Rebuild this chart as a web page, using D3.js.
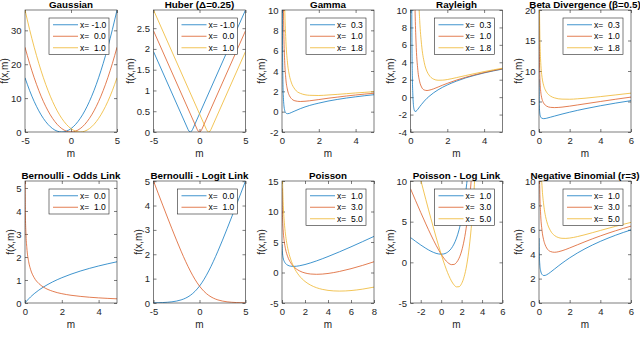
<!DOCTYPE html>
<html>
<head>
<meta charset="utf-8">
<script src="https://cdn.jsdelivr.net/npm/d3@7"></script>
<style>
body { margin: 0; background: #fff; }
svg { font-family: "Liberation Sans", Arial, Helvetica, sans-serif; }
</style>
</head>
<body>
<svg id="fig" width="640" height="348"></svg>
<script>
// matlab default line colours
var colors = ['#0072BD', '#D95319', '#EDB120']

// ---- Gaussian
var gaussM = [-5,-4.5,-4,-3.5,-3,-2.5,-2,-1.5,-1,-0.5,0,0.5,1,1.5,2,2.5,3,3.5,4,4.5,5]
var gaussA = [16,12.25,9,6.25,4,2.25,1,0.25,0,0.25,1,2.25,4,6.25,9,12.25,16,20.25,25,30.25,36]
var gaussB = [25,20.25,16,12.25,9,6.25,4,2.25,1,0.25,0,0.25,1,2.25,4,6.25,9,12.25,16,20.25,25]
var gaussC = [36,30.25,25,20.25,16,12.25,9,6.25,4,2.25,1,0.25,0,0.25,1,2.25,4,6.25,9,12.25,16]
var gaussLabels = ['x= -1.0', 'x=  0.0', 'x=  1.0']

// ---- Huber
var huberMA = [-5,-1.25,-1.125,-1,-0.875,-0.75,5]
var huberA = [1.9375,0.0625,0.0156,0,0.0156,0.0625,2.9375]
var huberMB = [-5,-0.25,-0.125,0,0.125,0.25,5]
var huberB = [2.4375,0.0625,0.0156,0,0.0156,0.0625,2.4375]
var huberMC = [-5,0.75,0.875,1,1.125,1.25,5]
var huberC = [2.9375,0.0625,0.0156,0,0.0156,0.0625,1.9375]

// ---- Gamma
var gammaM = [0.02,0.03,0.05,0.075,0.1,0.15,0.2,0.3,0.4,0.5,0.7,1,1.5,2,2.5,3,3.5,4,4.5,5]
var gammaA = [11.09,6.49,3.00,1.41,0.70,0.10,-0.11,-0.20,-0.17,-0.09,0.07,0.30,0.61,0.84,1.04,1.20,1.34,1.46,1.57,1.67]
var gammaB = [46.1,29.8,17.0,10.74,7.70,4.77,3.39,2.13,1.58,1.31,1.07,1.00,1.07,1.19,1.32,1.43,1.54,1.64,1.73,1.81]
var gammaC = [86.1,56.5,33.0,21.4,15.7,10.10,7.39,4.80,3.58,2.91,2.21,1.80,1.61,1.59,1.64,1.70,1.77,1.84,1.90,1.97]
var smallLabels = ['x=  0.3', 'x=  1.0', 'x=  1.8']

// ---- Rayleigh
var rayM = [0.05,0.075,0.1,0.125,0.15,0.2,0.25,0.3,0.4,0.5,0.6,0.75,0.9,1,1.25,1.5,1.75,2,2.5,3,3.5,4,4.5,5]
var rayA = [22.29,7.39,2.46,0.37,-0.65,-1.45,-1.64,-1.62,-1.39,-1.10,-0.83,-0.45,-0.12,0.07,0.49,0.84,1.14,1.40,1.84,2.21,2.51,2.78,3.01,3.22]
var rayB = [308,134,73.9,46.1,31.1,16.41,9.80,6.32,3.08,1.76,1.16,0.82,0.76,0.79,0.95,1.16,1.38,1.58,1.96,2.28,2.57,2.82,3.05,3.25]
var rayC = [1012,447,249.9,158.7,109.3,60.4,37.9,25.86,14.07,8.79,6.05,3.95,2.93,2.55,2.07,1.94,1.95,2.02,2.24,2.48,2.71,2.93,3.13,3.32]

// ---- Beta divergence
var betaM = [0.005,0.01,0.02,0.03,0.05,0.075,0.1,0.15,0.2,0.3,0.4,0.5,0.75,1,1.5,2,2.5,3,4,5,6]
var betaA = [8.63,6.20,4.53,3.81,3.13,2.74,2.53,2.32,2.24,2.19,2.21,2.26,2.43,2.60,2.94,3.25,3.54,3.81,4.30,4.74,5.14]
var betaB = [28.42,20.2,14.42,11.89,9.39,7.85,6.96,5.94,5.37,4.75,4.43,4.24,4.04,4.00,4.08,4.24,4.43,4.62,5.00,5.37,5.72]
var betaC = [51.05,36.2,25.74,21.13,16.55,13.69,12.02,10.07,8.94,7.67,6.96,6.50,5.89,5.60,5.39,5.37,5.44,5.54,5.80,6.08,6.37]

// ---- Bernoulli odds link
var oddsM = [0.005,0.01,0.02,0.05,0.1,0.2,0.3,0.5,0.75,1,1.5,2,2.5,3,3.5,4,4.5,5]
var oddsA = [0.005,0.01,0.0198,0.0488,0.0953,0.1823,0.2624,0.4055,0.5596,0.6931,0.9163,1.0986,1.2528,1.3863,1.5041,1.6094,1.7047,1.7918]
var oddsB = [5.303,4.615,3.932,3.045,2.398,1.792,1.466,1.099,0.847,0.693,0.511,0.405,0.336,0.288,0.251,0.223,0.201,0.182]
var binLabels = ['x=  0.0', 'x=  1.0']

// ---- Bernoulli logit link
var logitM = [-5,-4.5,-4,-3.5,-3,-2.5,-2,-1.5,-1,-0.5,0,0.5,1,1.5,2,2.5,3,3.5,4,4.5,5]
var logitA = [0.0067,0.0111,0.0181,0.0298,0.0486,0.0789,0.1269,0.2014,0.3133,0.4741,0.6931,0.9741,1.3133,1.7014,2.1269,2.5789,3.0486,3.5297,4.0181,4.5110,5.0067]
var logitB = [5.0067,4.5110,4.0181,3.5297,3.0486,2.5789,2.1269,1.7014,1.3133,0.9741,0.6931,0.4741,0.3133,0.2014,0.1269,0.0789,0.0486,0.0298,0.0181,0.0111,0.0067]

// ---- Poisson
var poisM = [0.01,0.02,0.05,0.1,0.2,0.3,0.5,0.75,1,1.5,2,2.5,3,3.5,4,5,6,7,8]
var poisA = [4.615,3.932,3.046,2.403,1.809,1.504,1.193,1.038,1,1.095,1.307,1.584,1.901,2.247,2.614,3.391,4.208,5.054,5.921]
var poisB = [13.83,11.76,9.04,7.01,5.03,3.91,2.58,1.61,1,0.285,-0.079,-0.249,-0.296,-0.260,-0.159,0.172,0.624,1.162,1.762]
var poisC = [23.04,19.58,15.03,11.61,8.25,6.32,3.97,2.19,1,-0.527,-1.466,-2.081,-2.493,-2.763,-2.931,-3.047,-2.959,-2.730,-2.397]
var countLabels = ['x=  1.0', 'x=  3.0', 'x=  5.0']

// ---- Poisson log link
var plogM = [-3,-2.5,-2,-1.5,-1,-0.5,0,0.25,0.5,0.75,1,1.25,1.5,1.75,2,2.25,2.5,2.75,3,3.25,3.5]
var plogA = [3.050,2.582,2.135,1.723,1.368,1.107,1,1.034,1.149,1.367,1.718,2.240,2.982,4.005,5.389,7.238,9.683,12.89,17.09,22.54,29.62]
var plogB = [9.050,7.582,6.135,4.723,3.368,2.107,1,0.534,0.149,-0.133,-0.282,-0.260,-0.018,0.505,1.389,2.738,4.683,7.393,11.09,16.04,22.62]
var plogC = [15.05,12.58,10.135,7.723,5.368,3.107,1,0.034,-0.851,-1.633,-2.282,-2.760,-3.018,-2.995,-2.611,-1.762,-0.318,1.893,5.086,9.540,15.62]

// ---- Negative binomial r=3
var nbM = [0.005,0.01,0.02,0.05,0.1,0.2,0.3,0.4,0.5,0.75,1,1.25,1.5,1.75,2,2.5,3,3.5,4,4.5,5,5.5,6]
var nbA = [5.318,4.645,3.991,3.191,2.684,2.338,2.254,2.262,2.315,2.526,2.772,3.021,3.260,3.486,3.701,4.095,4.446,4.763,5.052,5.315,5.558,5.782,5.992]
var nbB = [15.92,13.88,11.86,9.28,7.48,5.92,5.19,4.77,4.51,4.22,4.159,4.196,4.282,4.391,4.513,4.768,5.022,5.267,5.498,5.716,5.923,6.117,6.300]
var nbC = [26.53,23.11,19.72,15.37,12.28,9.51,8.12,7.27,6.71,5.92,5.545,5.371,5.303,5.295,5.323,5.441,5.597,5.769,5.944,6.118,6.287,6.450,6.608]

function zip(ms, fs) {
	return ms.map(function(m, i) { return [m, fs[i]] })
}

var panels = [
	{ title: 'Gaussian', xd: [-5, 5], yd: [0, 36], xt: [-5, 0, 5], yt: [0, 10, 20, 30],
	  series: [zip(gaussM, gaussA), zip(gaussM, gaussB), zip(gaussM, gaussC)], labels: gaussLabels },
	{ title: 'Huber (\u0394=0.25)', xd: [-5, 5], yd: [0, 2.9375], xt: [-5, 0, 5], yt: [0, 0.5, 1, 1.5, 2, 2.5], linear: true,
	  series: [zip(huberMA, huberA), zip(huberMB, huberB), zip(huberMC, huberC)], labels: gaussLabels },
	{ title: 'Gamma', xd: [0, 5], yd: [-2, 10], xt: [0, 2, 4], yt: [-2, 0, 2, 4, 6, 8, 10],
	  series: [zip(gammaM, gammaA), zip(gammaM, gammaB), zip(gammaM, gammaC)], labels: smallLabels },
	{ title: 'Rayleigh', xd: [0, 5], yd: [-4, 10], xt: [0, 2, 4], yt: [-4, -2, 0, 2, 4, 6, 8, 10],
	  series: [zip(rayM, rayA), zip(rayM, rayB), zip(rayM, rayC)], labels: smallLabels },
	{ title: 'Beta Divergence (\u03b2=0.5)', xd: [0, 6], yd: [0, 20], xt: [0, 2, 4, 6], yt: [0, 5, 10, 15, 20],
	  series: [zip(betaM, betaA), zip(betaM, betaB), zip(betaM, betaC)], labels: smallLabels },
	{ title: 'Bernoulli - Odds Link', xd: [0, 5], yd: [0, 5.303], xt: [0, 2, 4], yt: [0, 1, 2, 3, 4, 5],
	  series: [zip(oddsM, oddsA), zip(oddsM, oddsB)], labels: binLabels },
	{ title: 'Bernoulli - Logit Link', xd: [-5, 5], yd: [0, 5.0067], xt: [-5, 0, 5], yt: [0, 1, 2, 3, 4, 5],
	  series: [zip(logitM, logitA), zip(logitM, logitB)], labels: binLabels },
	{ title: 'Poisson', xd: [0, 8], yd: [-5, 15], xt: [0, 2, 4, 6, 8], yt: [-5, 0, 5, 10, 15],
	  series: [zip(poisM, poisA), zip(poisM, poisB), zip(poisM, poisC)], labels: countLabels },
	{ title: 'Poisson - Log Link', xd: [-3, 6], yd: [-5, 10], xt: [-2, 0, 2, 4, 6], yt: [-5, 0, 5, 10],
	  series: [zip(plogM, plogA), zip(plogM, plogB), zip(plogM, plogC)], labels: countLabels },
	{ title: 'Negative Binomial (r=3)', xd: [0, 6], yd: [0, 10], xt: [0, 2, 4, 6], yt: [0, 2, 4, 6, 8, 10],
	  series: [zip(nbM, nbA), zip(nbM, nbB), zip(nbM, nbC)], labels: countLabels }
]

var colX = [25, 153.5, 282, 410.5, 539]
var rowY = [10, 181]
var plotW = 92
var plotH = 122
var axisCol = '#262626'

var svg = d3.select('#fig')

function translate(x, y) {
	return 'translate(' + x + ',' + y + ')'
}

function fmt(d) { return String(d) }

function styleAxis(sel) {
	sel.select('.domain').remove()
	sel.selectAll('line').attr('stroke', axisCol).attr('stroke-width', 0.6)
	sel.selectAll('text').attr('fill', axisCol).style('font-size', '9.5px')
}

panels.forEach(function(p, i) {
	var left = colX[i % 5]
	var top = rowY[Math.floor(i / 5)]
	var g = svg.append('g').attr('transform', translate(left, top))

	var x = d3.scaleLinear().domain(p.xd).range([0, plotW])
	var y = d3.scaleLinear().domain(p.yd).range([plotH, 0])

	var clipId = 'clip' + i
	g.append('clipPath').attr('id', clipId)
		.append('rect').attr('width', plotW).attr('height', plotH)

	// axes with inward ticks on all four sides
	g.append('g').attr('transform', translate(0, plotH))
		.call(d3.axisBottom(x).tickValues(p.xt).tickSize(-3).tickPadding(5).tickFormat(fmt))
		.call(styleAxis)
	g.append('g')
		.call(d3.axisTop(x).tickValues(p.xt).tickSize(-3).tickFormat(''))
		.call(styleAxis)
	var yAx = g.append('g')
		.call(d3.axisLeft(y).tickValues(p.yt).tickSize(-3).tickPadding(3.5).tickFormat(fmt))
		.call(styleAxis)
	g.append('g').attr('transform', translate(plotW, 0))
		.call(d3.axisRight(y).tickValues(p.yt).tickSize(-3).tickFormat(''))
		.call(styleAxis)

	var line = d3.line()
		.x(function(d) { return x(d[0]) })
		.y(function(d) { return y(d[1]) })
		.curve(p.linear ? d3.curveLinear : d3.curveMonotoneX)

	g.append('g').attr('clip-path', 'url(#' + clipId + ')')
		.selectAll('path').data(p.series).enter().append('path')
		.attr('d', line)
		.attr('fill', 'none')
		.attr('stroke', function(d, k) { return colors[k] })
		.attr('stroke-width', 0.75)

	g.append('rect').attr('width', plotW).attr('height', plotH)
		.attr('fill', 'none').attr('stroke', axisCol).attr('stroke-width', 0.6)

	// title and labels
	g.append('text').attr('x', plotW / 2).attr('y', -2)
		.attr('text-anchor', 'middle').style('font-size', '9.8px').style('font-weight', 'bold')
		.attr('fill', '#000').text(p.title)
	g.append('text').attr('x', plotW / 2).attr('y', plotH + 25)
		.attr('text-anchor', 'middle').style('font-size', '10px').attr('fill', axisCol).text('m')

	var maxW = 0
	yAx.selectAll('text').each(function() { maxW = Math.max(maxW, this.getComputedTextLength()) })
	g.append('text')
		.attr('transform', translate(-maxW - 6, plotH / 2) + ' rotate(-90)')
		.attr('text-anchor', 'middle').style('font-size', '10px').attr('fill', axisCol).text('f(x,m)')

	// legend
	var n = p.labels.length
	var lw = 60, rowH = 11.5
	var lg = g.append('g').attr('transform', translate(plotW - 8 - lw, 8))
	lg.append('rect').attr('width', lw).attr('height', n * rowH + 2)
		.attr('fill', '#fff').attr('stroke', axisCol).attr('stroke-width', 0.6)
	p.labels.forEach(function(lab, k) {
		var yy = 1 + rowH * k + rowH / 2
		lg.append('line').attr('x1', 4).attr('x2', 29).attr('y1', yy).attr('y2', yy)
			.attr('stroke', colors[k]).attr('stroke-width', 0.75)
		lg.append('text').attr('x', 31).attr('y', yy).attr('dy', '0.35em')
			.style('font-size', '8.5px').style('white-space', 'pre').attr('fill', '#000').text(lab)
	})
})
</script>
</body>
</html>
